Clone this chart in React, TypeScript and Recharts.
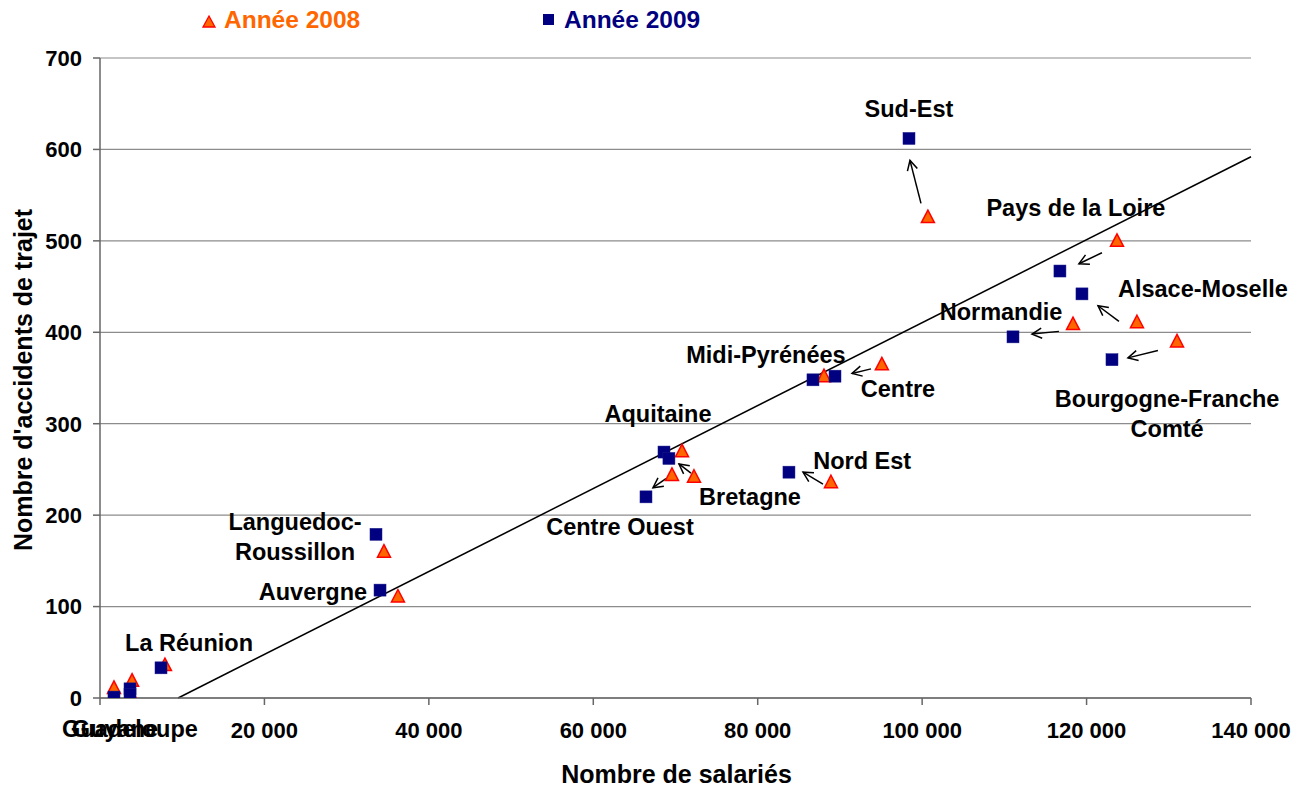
import React from 'react';
import {
  ScatterChart,
  Scatter,
  XAxis,
  YAxis,
  CartesianGrid,
  ReferenceLine,
  ReferenceDot,
  Legend,
  Label,
} from 'recharts';

// ---------- data ----------
const regionNames = [
  'Guyane', 'Guadeloupe', 'Martinique', 'La Réunion', 'Languedoc-Roussillon', 'Auvergne',
  'Centre Ouest', 'Aquitaine', 'Bretagne', 'Nord Est', 'Midi-Pyrénées', 'Centre', 'Sud-Est',
  'Normandie', 'Pays de la Loire', 'Alsace-Moselle', 'Bourgogne-Franche Comté',
];
const salaries2008 = [1700, 3900, 3900, 7900, 34540, 36240, 69570, 70790, 72250, 88910, 88060, 95100, 100700, 118350, 123700, 126130, 131000];
const accidents2008 = [11, 19, 1, 36, 160, 111, 244, 270, 242, 236, 352, 365, 526, 409, 500, 411, 390];
const salaries2009 = [1700, 3650, 3650, 7420, 33570, 34060, 66410, 68600, 69200, 83800, 86720, 89400, 98400, 111050, 116760, 119440, 123090];
const accidents2009 = [1, 10, 4, 33, 179, 118, 220, 269, 262, 247, 348, 352, 612, 395, 467, 442, 370];

// linear trend line endpoints
const trendX = [9500, 140000];
const trendY = [0, 592];

// arrows (2008 -> 2009)
const arrowFromX = [99860, 121870, 123940, 116640, 128680, 93780, 87940, 71880, 68840];
const arrowFromY = [541, 487, 412, 401, 380, 360, 234, 246, 240];
const arrowToX = [98520, 119070, 121390, 113360, 125030, 91470, 85510, 70420, 67260];
const arrowToY = [588, 475, 429, 398, 372, 355, 247, 256, 230];

// region labels
const labelTexts = [
  'Sud-Est', 'Pays de la Loire', 'Alsace-Moselle', 'Normandie', 'Midi-Pyrénées', 'Centre',
  'Bourgogne-Franche', 'Comté', 'Aquitaine', 'Bretagne', 'Centre Ouest', 'Nord Est',
  'Languedoc-', 'Roussillon', 'Auvergne', 'La Réunion', 'Guadeloupe', 'Guyane',
];
const labelX = [98400, 118700, 134150, 109600, 81000, 97060, 129800, 129800, 67870, 79060, 63250, 92700, 23720, 23720, 25900, 10830, 3650, 1820];
const labelY = [645, 536, 448, 423, 376, 339, 328, 295, 311, 220, 187, 260, 193, 160, 116, 61, -33, -33];

const xTicks = [0, 20000, 40000, 60000, 80000, 100000, 120000, 140000];
const yTicks = [0, 100, 200, 300, 400, 500, 600, 700];

const seriesNames = ['Année 2008', 'Année 2009'];
const seriesColors = ['#FF6600', '#000080'];

// ---------- build ----------
const data2008 = salaries2008.map((x, i) => ({ x, y: accidents2008[i], name: regionNames[i] }));
const data2009 = salaries2009.map((x, i) => ({ x, y: accidents2009[i], name: regionNames[i] }));

const FONT = '"Liberation Sans", Arial, Helvetica, sans-serif';

const formatThousands = (v: number) =>
  v === 0 ? '' : String(v).replace(/\B(?=(\d{3})+(?!\d))/g, ' ');

const TriangleShape = (props: any) => {
  const { cx, cy } = props;
  if (cx == null || cy == null) return null;
  return (
    <polygon
      points={`${cx},${cy - 7} ${cx + 6.5},${cy + 5.5} ${cx - 6.5},${cy + 5.5}`}
      fill="#FF6600"
      stroke="#FF0000"
      strokeWidth={1.5}
      strokeLinejoin="miter"
    />
  );
};

const SquareShape = (props: any) => {
  const { cx, cy } = props;
  if (cx == null || cy == null) return null;
  return <rect x={cx - 6} y={cy - 6} width={12} height={12} fill="#000080" stroke="#1a1a8a" strokeWidth={0.5} />;
};

const ArrowShape = (props: any) => {
  const { x1, y1, x2, y2 } = props;
  if ([x1, y1, x2, y2].some((v) => v == null || isNaN(v))) return null;
  const ang = Math.atan2(y2 - y1, x2 - x1);
  const L = 11;
  const a = Math.PI / 6.5;
  const hx1 = x2 - L * Math.cos(ang - a);
  const hy1 = y2 - L * Math.sin(ang - a);
  const hx2 = x2 - L * Math.cos(ang + a);
  const hy2 = y2 - L * Math.sin(ang + a);
  return (
    <g>
      <line x1={x1} y1={y1} x2={x2} y2={y2} stroke="#000" strokeWidth={1.5} />
      <polyline points={`${hx1},${hy1} ${x2},${y2} ${hx2},${hy2}`} fill="none" stroke="#000" strokeWidth={1.5} />
    </g>
  );
};

const TrendShape = (props: any) => {
  const { x1, y1, x2, y2 } = props;
  return <line x1={x1} y1={y1} x2={x2} y2={y2} stroke="#000" strokeWidth={1.5} />;
};

const makeLabelShape = (text: string) => (props: any) => {
  const { cx, cy } = props;
  if (cx == null || cy == null) return null;
  return (
    <text
      x={cx}
      y={cy}
      dy="0.36em"
      textAnchor="middle"
      fontFamily={FONT}
      fontWeight="bold"
      fontSize={23.5}
      fill="#000"
    >
      {text}
    </text>
  );
};

const LegendContent = () => (
  <div style={{ position: 'relative', width: 1290, height: 0 }}>
    <svg
      width={1290}
      height={40}
      style={{ position: 'absolute', left: 0, top: 0, overflow: 'visible' }}
    >
      <polygon points="201,8 207,19 195,19" fill="#FF6600" stroke="#FF0000" strokeWidth={1.3} />
      <text x={216} y={20} fontFamily={FONT} fontWeight="bold" fontSize={24.5} fill={seriesColors[0]}>
        {seriesNames[0]}
      </text>
      <rect x={535} y={6} width={11} height={11} fill="#000080" />
      <text x={556} y={20} fontFamily={FONT} fontWeight="bold" fontSize={24.5} fill={seriesColors[1]}>
        {seriesNames[1]}
      </text>
    </svg>
  </div>
);

const YTitle = (props: any) => {
  const vb = props.viewBox || { x: 0, y: 50, width: 92, height: 640 };
  const x = vb.x + 24;
  const y = vb.y + vb.height / 2 + 2;
  return (
    <text
      x={x}
      y={y}
      transform={`rotate(-90 ${x} ${y})`}
      textAnchor="middle"
      fontFamily={FONT}
      fontWeight="bold"
      fontSize={25}
      fill="#000"
    >
      Nombre d'accidents de trajet
    </text>
  );
};

const XTitle = (props: any) => {
  const vb = props.viewBox || { x: 92, y: 690, width: 1151, height: 89 };
  const x = vb.x + vb.width / 2 + 1;
  const y = vb.y + 85;
  return (
    <text x={x} y={y} textAnchor="middle" fontFamily={FONT} fontWeight="bold" fontSize={25} fill="#000">
      Nombre de salariés
    </text>
  );
};

export default function App() {
  const tickStyle = { fontSize: 22, fontWeight: 'bold', fill: '#000', fontFamily: FONT } as any;
  return (
    <div style={{ width: 1290, height: 779, fontFamily: FONT }}>
      <ScatterChart width={1290} height={779} margin={{ top: 50, right: 47, bottom: 0, left: 0 }}>
        <CartesianGrid horizontal vertical={false} stroke="#8c8c8c" strokeWidth={1.2} />
        <XAxis
          type="number"
          dataKey="x"
          domain={[0, 140000]}
          ticks={xTicks}
          tickFormatter={formatThousands}
          height={89}
          tickSize={7}
          tickMargin={17}
          tick={tickStyle}
          axisLine={{ stroke: '#666', strokeWidth: 1.5 }}
          tickLine={{ stroke: '#666', strokeWidth: 1.5 }}
          allowDataOverflow
          interval={0}
        >
          <Label content={<XTitle />} />
        </XAxis>
        <YAxis
          type="number"
          dataKey="y"
          domain={[0, 700]}
          ticks={yTicks}
          width={92}
          tickSize={7}
          tickMargin={11}
          tick={tickStyle}
          axisLine={{ stroke: '#666', strokeWidth: 1.5 }}
          tickLine={{ stroke: '#666', strokeWidth: 1.5 }}
          allowDataOverflow
          interval={0}
        >
          <Label content={<YTitle />} />
        </YAxis>
        <Legend content={<LegendContent />} wrapperStyle={{ top: 0, left: 0 }} verticalAlign="top" />
        <Scatter
          name={seriesNames[0]}
          data={data2008}
          fill={seriesColors[0]}
          shape={<TriangleShape />}
          isAnimationActive={false}
        />
        <Scatter
          name={seriesNames[1]}
          data={data2009}
          fill={seriesColors[1]}
          shape={<SquareShape />}
          isAnimationActive={false}
        />
        <ReferenceLine
          segment={[
            { x: trendX[0], y: trendY[0] },
            { x: trendX[1], y: trendY[1] },
          ]}
          shape={<TrendShape />}
          ifOverflow="visible"
        />
        {arrowFromX.map((fx, i) => (
          <ReferenceLine
            key={`arrow-${i}`}
            segment={[
              { x: fx, y: arrowFromY[i] },
              { x: arrowToX[i], y: arrowToY[i] },
            ]}
            shape={<ArrowShape />}
            ifOverflow="visible"
          />
        ))}
        {labelTexts.map((t, i) => (
          <ReferenceDot
            key={`lbl-${i}`}
            x={labelX[i]}
            y={labelY[i]}
            r={0}
            ifOverflow="visible"
            shape={makeLabelShape(t)}
          />
        ))}
      </ScatterChart>
    </div>
  );
}
